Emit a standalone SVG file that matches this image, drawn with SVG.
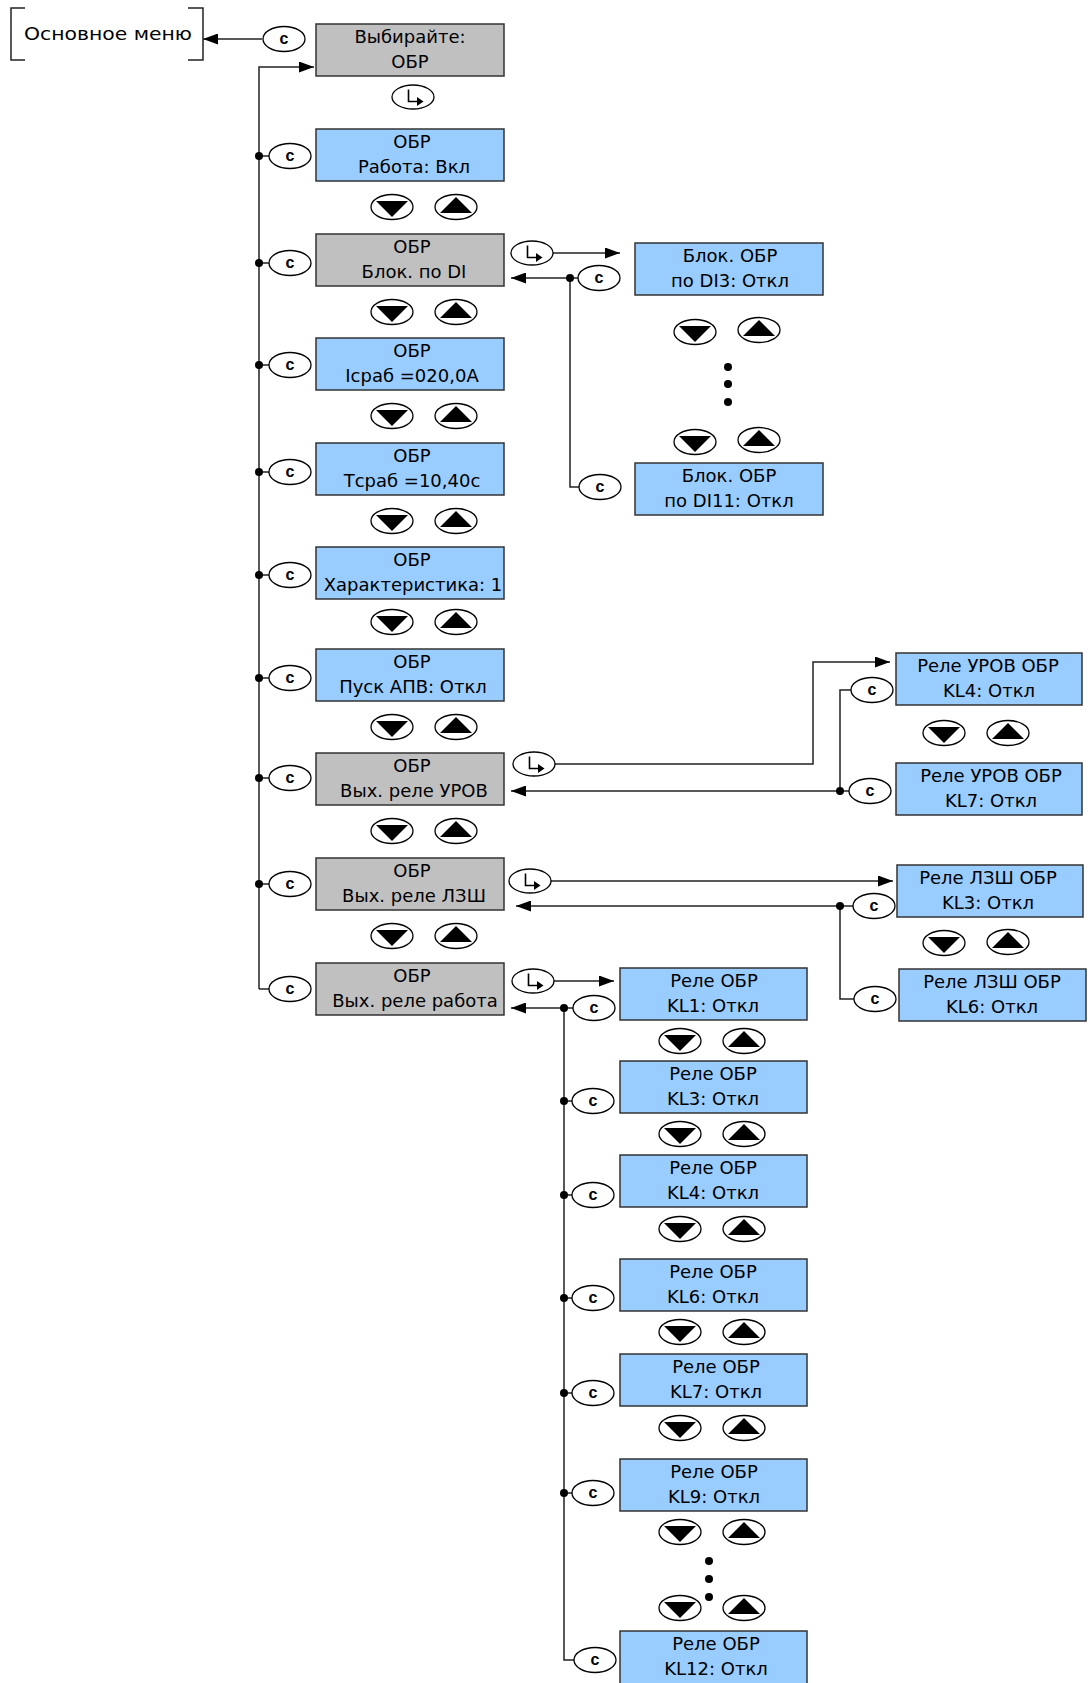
<svg xmlns="http://www.w3.org/2000/svg" xmlns:xlink="http://www.w3.org/1999/xlink" width="1090" height="1683" viewBox="0 0 1090 1683">
<style>
.blue{fill:#99CCFF;stroke:#333;stroke-width:1.5}
.gray{fill:#C0C0C0;stroke:#333;stroke-width:1.5}
.lbl{font-family:"DejaVu Sans",sans-serif;font-size:18px;text-anchor:middle;fill:#000}
.ell{fill:#fff;stroke:#000;stroke-width:1.3}
.ct{font-family:"Liberation Sans",Arial,sans-serif;font-weight:bold;font-size:16px;text-anchor:middle;fill:#000}
.ln{fill:none;stroke:#222;stroke-width:1.5}
.dot{fill:#000}
</style>
<defs>
<marker id="arr" viewBox="0 0 15 11" refX="15" refY="5.5" markerWidth="15" markerHeight="11" markerUnits="userSpaceOnUse" orient="auto"><path d="M0,0 L15,5.5 L0,11 z" fill="#000"/></marker>
<g id="cb"><ellipse cx="0" cy="0" rx="21" ry="12.5" class="ell"/></g>
<g id="dn"><ellipse cx="0" cy="0" rx="21" ry="12.5" class="ell"/><path d="M-16,-6 L16,-6 L0,10 z" fill="#000"/></g>
<g id="up"><ellipse cx="0" cy="0" rx="21" ry="12.5" class="ell"/><path d="M-16,6 L16,6 L0,-10 z" fill="#000"/></g>
<g id="en"><ellipse cx="0" cy="0" rx="21" ry="12" class="ell"/><path d="M-4.5,-7.5 V4.5 H4.5" fill="none" stroke="#000" stroke-width="1.6"/><path d="M4,0 L10.5,4.5 L4,9 z" fill="#000"/></g>
</defs>

<g id="connectors">
<path class="ln" d="M262,39 H203" marker-end="url(#arr)"/>
<path class="ln" d="M259,989 V67 H314" marker-end="url(#arr)"/>
<path class="ln" d="M259,989 H269"/>
<path class="ln" d="M259,156 H269 M259,263 H269 M259,365 H269 M259,472 H269 M259,575 H269 M259,678 H269 M259,778 H269 M259,884 H269"/>
<circle class="dot" cx="259" cy="156" r="4"/><circle class="dot" cx="259" cy="263" r="4"/><circle class="dot" cx="259" cy="365" r="4"/><circle class="dot" cx="259" cy="472" r="4"/><circle class="dot" cx="259" cy="575" r="4"/><circle class="dot" cx="259" cy="678" r="4"/><circle class="dot" cx="259" cy="778" r="4"/><circle class="dot" cx="259" cy="884" r="4"/>
<path class="ln" d="M553,253 H620" marker-end="url(#arr)"/>
<path class="ln" d="M578,278 H511" marker-end="url(#arr)"/>
<path class="ln" d="M570,278 V487 H579"/>
<circle class="dot" cx="570" cy="278" r="4"/>
<path class="ln" d="M555,764 H813 V662 H890" marker-end="url(#arr)"/>
<path class="ln" d="M849,791 H511" marker-end="url(#arr)"/>
<path class="ln" d="M840,791 V690 H851"/>
<circle class="dot" cx="840" cy="791" r="4"/>
<path class="ln" d="M551,881 H893" marker-end="url(#arr)"/>
<path class="ln" d="M853,906 H516" marker-end="url(#arr)"/>
<path class="ln" d="M840,906 V999 H854"/>
<circle class="dot" cx="840" cy="906" r="4"/>
<path class="ln" d="M554,981 H614" marker-end="url(#arr)"/>
<path class="ln" d="M573,1008 H511" marker-end="url(#arr)"/>
<path class="ln" d="M564,1008 V1660 H574"/>
<path class="ln" d="M564,1101 H572 M564,1195 H572 M564,1298 H572 M564,1393 H572 M564,1493 H572"/>
<circle class="dot" cx="564" cy="1008" r="4"/><circle class="dot" cx="564" cy="1101" r="4"/><circle class="dot" cx="564" cy="1195" r="4"/><circle class="dot" cx="564" cy="1298" r="4"/><circle class="dot" cx="564" cy="1393" r="4"/><circle class="dot" cx="564" cy="1493" r="4"/>
</g>

<g id="main-menu">
<path class="ln" d="M25,8 H11 V60 H25 M188,8 H203 V60 H188" stroke="#000"/>
<text class="lbl" x="108" y="40" textLength="168" lengthAdjust="spacingAndGlyphs">Основное меню</text>
</g>

<g id="c-top"><use xlink:href="#cb" x="284" y="39"/><text class="ct" x="284" y="44">c</text></g>

<g id="n-select"><rect class="gray" x="316" y="24" width="188" height="52"/><text class="lbl" x="410" y="43">Выбирайте:</text><text class="lbl" x="410" y="68">ОБР</text></g>
<g id="enter-select"><use xlink:href="#en" x="413" y="97"/></g>

<g id="n-rabota"><rect class="blue" x="316" y="129" width="188" height="52"/><text class="lbl" x="412" y="148">ОБР</text><text class="lbl" x="414" y="173">Работа: Вкл</text></g>
<g id="n-blok"><rect class="gray" x="316" y="234" width="188" height="52"/><text class="lbl" x="412" y="253">ОБР</text><text class="lbl" x="414" y="278">Блок. по DI</text></g>
<g id="n-isrb"><rect class="blue" x="316" y="338" width="188" height="52"/><text class="lbl" x="412" y="357">ОБР</text><text class="lbl" x="412" y="382">Iсраб =020,0А</text></g>
<g id="n-tsrb"><rect class="blue" x="316" y="443" width="188" height="52"/><text class="lbl" x="412" y="462">ОБР</text><text class="lbl" x="412" y="487">Tсраб =10,40с</text></g>
<g id="n-har"><rect class="blue" x="316" y="547" width="188" height="52"/><text class="lbl" x="412" y="566">ОБР</text><text class="lbl" x="413" y="591">Характеристика: 1</text></g>
<g id="n-apv"><rect class="blue" x="316" y="649" width="188" height="52"/><text class="lbl" x="412" y="668">ОБР</text><text class="lbl" x="413" y="693">Пуск АПВ: Откл</text></g>
<g id="n-urov"><rect class="gray" x="316" y="753" width="188" height="52"/><text class="lbl" x="412" y="772">ОБР</text><text class="lbl" x="414" y="797">Вых. реле УРОВ</text></g>
<g id="n-lzsh"><rect class="gray" x="316" y="858" width="188" height="52"/><text class="lbl" x="412" y="877">ОБР</text><text class="lbl" x="414" y="902">Вых. реле ЛЗШ</text></g>
<g id="n-rab"><rect class="gray" x="316" y="963" width="188" height="52"/><text class="lbl" x="412" y="982">ОБР</text><text class="lbl" x="415" y="1007">Вых. реле работа</text></g>

<g id="main-c">
<use xlink:href="#cb" x="290" y="156"/><text class="ct" x="290" y="161">c</text>
<use xlink:href="#cb" x="290" y="263"/><text class="ct" x="290" y="268">c</text>
<use xlink:href="#cb" x="290" y="365"/><text class="ct" x="290" y="370">c</text>
<use xlink:href="#cb" x="290" y="472"/><text class="ct" x="290" y="477">c</text>
<use xlink:href="#cb" x="290" y="575"/><text class="ct" x="290" y="580">c</text>
<use xlink:href="#cb" x="290" y="678"/><text class="ct" x="290" y="683">c</text>
<use xlink:href="#cb" x="290" y="778"/><text class="ct" x="290" y="783">c</text>
<use xlink:href="#cb" x="290" y="884"/><text class="ct" x="290" y="889">c</text>
<use xlink:href="#cb" x="290" y="989"/><text class="ct" x="290" y="994">c</text>
</g>

<g id="main-buttons">
<use xlink:href="#dn" x="392" y="207"/><use xlink:href="#up" x="456" y="207"/>
<use xlink:href="#dn" x="392" y="312"/><use xlink:href="#up" x="456" y="312"/>
<use xlink:href="#dn" x="392" y="416"/><use xlink:href="#up" x="456" y="416"/>
<use xlink:href="#dn" x="392" y="521"/><use xlink:href="#up" x="456" y="521"/>
<use xlink:href="#dn" x="392" y="622"/><use xlink:href="#up" x="456" y="622"/>
<use xlink:href="#dn" x="392" y="727"/><use xlink:href="#up" x="456" y="727"/>
<use xlink:href="#dn" x="392" y="831"/><use xlink:href="#up" x="456" y="831"/>
<use xlink:href="#dn" x="392" y="936"/><use xlink:href="#up" x="456" y="936"/>
</g>

<g id="enter-blok"><use xlink:href="#en" x="532" y="253"/></g>
<g id="c-blok"><use xlink:href="#cb" x="599" y="278"/><text class="ct" x="599" y="283">c</text><use xlink:href="#cb" x="600" y="487"/><text class="ct" x="600" y="492">c</text></g>
<g id="n-di3"><rect class="blue" x="635" y="243" width="188" height="52"/><text class="lbl" x="730" y="262">Блок. ОБР</text><text class="lbl" x="730" y="287">по DI3: Откл</text></g>
<g id="n-di11"><rect class="blue" x="635" y="463" width="188" height="52"/><text class="lbl" x="729" y="482">Блок. ОБР</text><text class="lbl" x="729" y="507">по DI11: Откл</text></g>
<g id="blok-buttons">
<use xlink:href="#dn" x="695" y="332"/><use xlink:href="#up" x="759" y="330"/>
<use xlink:href="#dn" x="695" y="442"/><use xlink:href="#up" x="759" y="440"/>
<circle class="dot" cx="728" cy="367" r="4"/><circle class="dot" cx="728" cy="384" r="4"/><circle class="dot" cx="728" cy="402" r="4"/>
</g>

<g id="enter-urov"><use xlink:href="#en" x="534" y="764"/></g>
<g id="c-urov"><use xlink:href="#cb" x="872" y="690"/><text class="ct" x="872" y="695">c</text><use xlink:href="#cb" x="870" y="791"/><text class="ct" x="870" y="796">c</text></g>
<g id="n-urov-kl4"><rect class="blue" x="896" y="653" width="186" height="52"/><text class="lbl" x="988" y="672">Реле УРОВ ОБР</text><text class="lbl" x="989" y="697">KL4: Откл</text></g>
<g id="n-urov-kl7"><rect class="blue" x="896" y="763" width="186" height="52"/><text class="lbl" x="991" y="782">Реле УРОВ ОБР</text><text class="lbl" x="991" y="807">KL7: Откл</text></g>
<g id="urov-buttons"><use xlink:href="#dn" x="944" y="733"/><use xlink:href="#up" x="1008" y="733"/></g>

<g id="enter-lzsh"><use xlink:href="#en" x="530" y="881"/></g>
<g id="c-lzsh"><use xlink:href="#cb" x="874" y="906"/><text class="ct" x="874" y="911">c</text><use xlink:href="#cb" x="875" y="999"/><text class="ct" x="875" y="1004">c</text></g>
<g id="n-lzsh-kl3"><rect class="blue" x="897" y="865" width="186" height="52"/><text class="lbl" x="988" y="884">Реле ЛЗШ ОБР</text><text class="lbl" x="988" y="909">KL3: Откл</text></g>
<g id="n-lzsh-kl6"><rect class="blue" x="899" y="969" width="187" height="52"/><text class="lbl" x="992" y="988">Реле ЛЗШ ОБР</text><text class="lbl" x="992" y="1013">KL6: Откл</text></g>
<g id="lzsh-buttons"><use xlink:href="#dn" x="944" y="943"/><use xlink:href="#up" x="1008" y="942"/></g>

<g id="enter-rab"><use xlink:href="#en" x="533" y="981"/></g>
<g id="c-rab">
<use xlink:href="#cb" x="594" y="1008"/><text class="ct" x="594" y="1013">c</text>
<use xlink:href="#cb" x="593" y="1101"/><text class="ct" x="593" y="1106">c</text>
<use xlink:href="#cb" x="593" y="1195"/><text class="ct" x="593" y="1200">c</text>
<use xlink:href="#cb" x="593" y="1298"/><text class="ct" x="593" y="1303">c</text>
<use xlink:href="#cb" x="593" y="1393"/><text class="ct" x="593" y="1398">c</text>
<use xlink:href="#cb" x="593" y="1493"/><text class="ct" x="593" y="1498">c</text>
<use xlink:href="#cb" x="595" y="1660"/><text class="ct" x="595" y="1665">c</text>
</g>
<g id="n-kl1"><rect class="blue" x="620" y="968" width="187" height="52"/><text class="lbl" x="714" y="987">Реле ОБР</text><text class="lbl" x="713" y="1012">KL1: Откл</text></g>
<g id="n-kl3"><rect class="blue" x="620" y="1061" width="187" height="52"/><text class="lbl" x="713" y="1080">Реле ОБР</text><text class="lbl" x="713" y="1105">KL3: Откл</text></g>
<g id="n-kl4"><rect class="blue" x="620" y="1155" width="187" height="52"/><text class="lbl" x="713" y="1174">Реле ОБР</text><text class="lbl" x="713" y="1199">KL4: Откл</text></g>
<g id="n-kl6"><rect class="blue" x="620" y="1259" width="187" height="52"/><text class="lbl" x="713" y="1278">Реле ОБР</text><text class="lbl" x="713" y="1303">KL6: Откл</text></g>
<g id="n-kl7"><rect class="blue" x="620" y="1354" width="187" height="52"/><text class="lbl" x="716" y="1373">Реле ОБР</text><text class="lbl" x="716" y="1398">KL7: Откл</text></g>
<g id="n-kl9"><rect class="blue" x="620" y="1459" width="187" height="52"/><text class="lbl" x="714" y="1478">Реле ОБР</text><text class="lbl" x="714" y="1503">KL9: Откл</text></g>
<g id="n-kl12"><rect class="blue" x="620" y="1631" width="187" height="53"/><text class="lbl" x="716" y="1650">Реле ОБР</text><text class="lbl" x="716" y="1675">KL12: Откл</text></g>
<g id="rab-buttons">
<use xlink:href="#dn" x="680" y="1041"/><use xlink:href="#up" x="744" y="1041"/>
<use xlink:href="#dn" x="680" y="1134"/><use xlink:href="#up" x="744" y="1134"/>
<use xlink:href="#dn" x="680" y="1229"/><use xlink:href="#up" x="744" y="1229"/>
<use xlink:href="#dn" x="680" y="1332"/><use xlink:href="#up" x="744" y="1332"/>
<use xlink:href="#dn" x="680" y="1428"/><use xlink:href="#up" x="744" y="1428"/>
<use xlink:href="#dn" x="680" y="1532"/><use xlink:href="#up" x="744" y="1532"/>
<use xlink:href="#dn" x="680" y="1608"/><use xlink:href="#up" x="744" y="1608"/>
<circle class="dot" cx="709" cy="1561" r="4"/><circle class="dot" cx="709" cy="1579" r="4"/><circle class="dot" cx="709" cy="1597" r="4"/>
</g>
</svg>
